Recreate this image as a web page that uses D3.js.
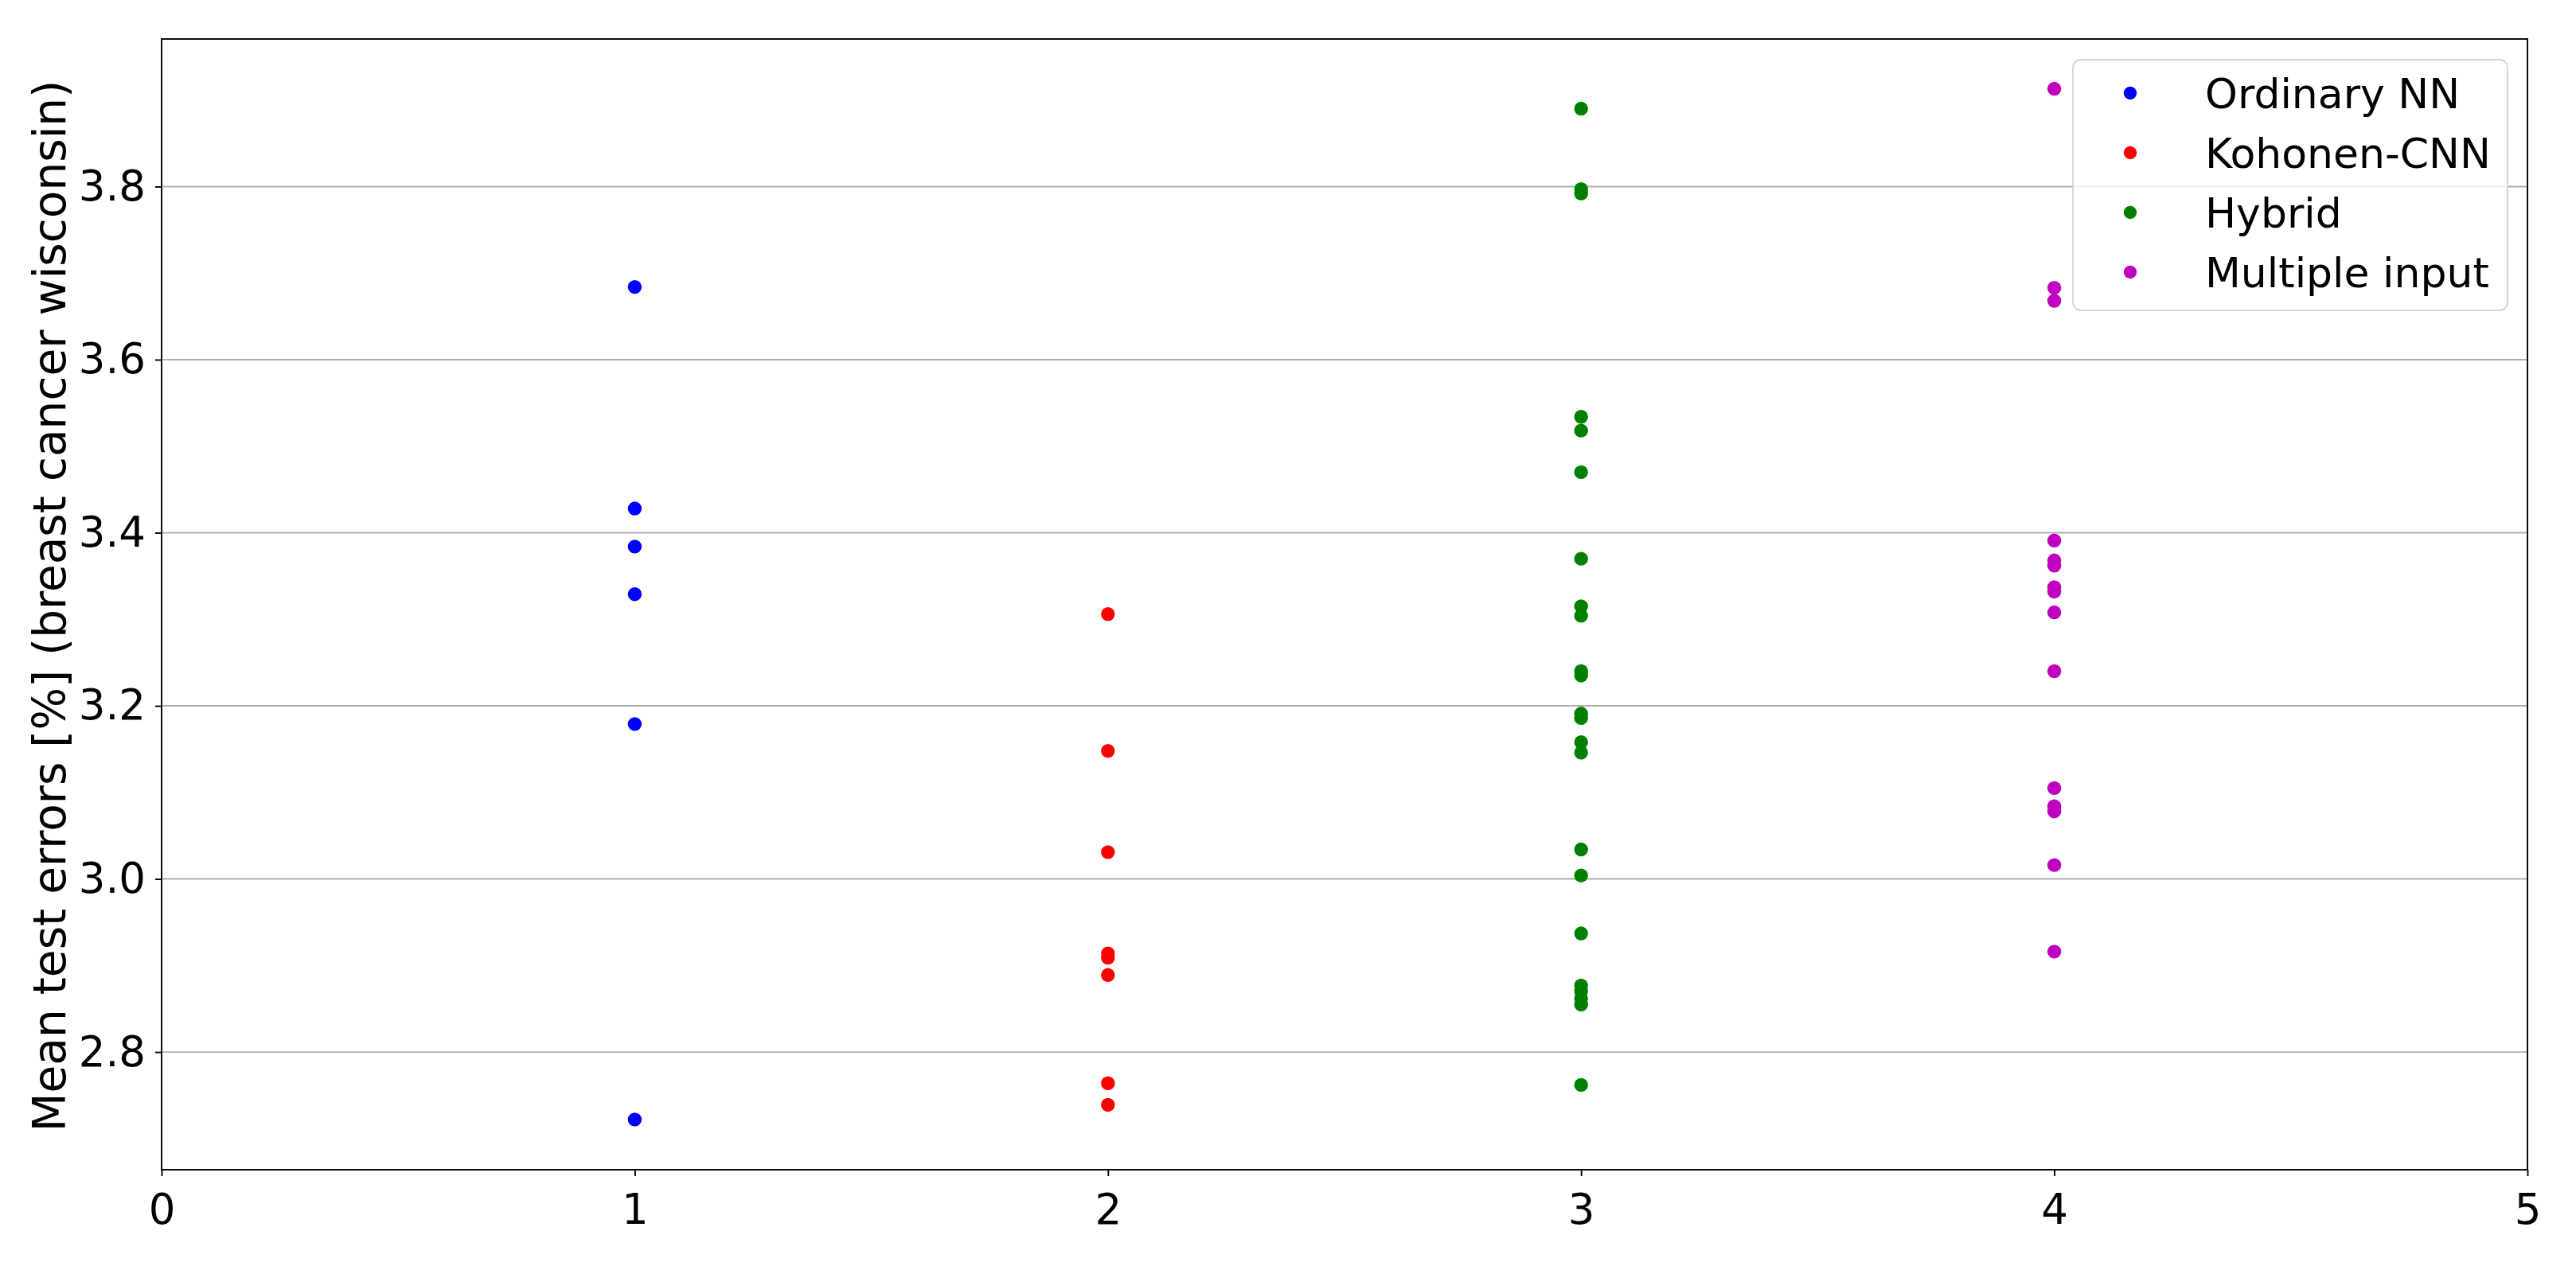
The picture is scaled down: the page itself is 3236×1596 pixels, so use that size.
<!DOCTYPE html>
<html>
<head>
<meta charset="utf-8">
<script src="https://cdn.jsdelivr.net/npm/d3@7"></script>
<style>
  html, body { margin: 0; padding: 0; background: #ffffff; }
  svg { display: block; }
  text { font-family: "DejaVu Sans", sans-serif; fill: #000; }
</style>
</head>
<body>
<svg id="chart" width="3236" height="1596"></svg>
<script>
// ---- data ----
const seriesNames = ["Ordinary NN", "Kohonen-CNN", "Hybrid", "Multiple input"];
const seriesX = [1, 2, 3, 4];
const seriesColors = ["#0000ff", "#ff0000", "#008000", "#bf00bf"];

const ordinaryNN = [3.684, 3.428, 3.384, 3.329, 3.179, 2.722];
const kohonenCNN = [3.306, 3.148, 3.031, 2.914, 2.909, 2.889, 2.764, 2.739];
const hybrid = [3.890, 3.797, 3.792, 3.534, 3.518, 3.470, 3.370, 3.315, 3.304,
                3.240, 3.235, 3.191, 3.186, 3.158, 3.146, 3.034, 3.004, 2.937,
                2.877, 2.870, 2.862, 2.855, 2.762];
const multipleInput = [3.913, 3.683, 3.668, 3.391, 3.368, 3.362, 3.337, 3.332,
                       3.308, 3.240, 3.105, 3.084, 3.078, 3.016, 2.916];

const xTicks = [0, 1, 2, 3, 4, 5];
const yTicks = [2.8, 3.0, 3.2, 3.4, 3.6, 3.8];
const xDomain = [0, 5];
const yDomain = [2.664, 3.9705];
const yLabel = "Mean test errors [%] (breast cancer wisconsin)";

// ---- layout ----
const svg = d3.select("#chart");
const L = 203, R = 3175, T = 49, B = 1470;

const x = d3.scaleLinear().domain(xDomain).range([L, R]);
const y = d3.scaleLinear().domain(yDomain).range([B, T]);

svg.append("rect").attr("width", 3236).attr("height", 1596).attr("fill", "#fff");

// grid (horizontal only)
svg.append("g").selectAll("line").data(yTicks).join("line")
  .attr("x1", L).attr("x2", R)
  .attr("y1", d => y(d)).attr("y2", d => y(d))
  .attr("stroke", "#b0b0b0").attr("stroke-width", 1.9);

// axes
const xAxis = svg.append("g").attr("transform", `translate(0,${B})`)
  .call(d3.axisBottom(x).tickValues(xTicks).tickFormat(d3.format("d")).tickSize(8).tickPadding(10));
const yAxis = svg.append("g").attr("transform", `translate(${L},0)`)
  .call(d3.axisLeft(y).tickValues(yTicks).tickFormat(d3.format(".1f")).tickSize(8).tickPadding(12));
[xAxis, yAxis].forEach(g => {
  g.select(".domain").remove();
  g.selectAll(".tick line").attr("stroke", "#000").attr("stroke-width", 1.9);
  g.selectAll(".tick text").attr("font-size", 53).attr("font-family", "DejaVu Sans").attr("fill", "#000");
});
xAxis.selectAll(".tick text").attr("dy", "0.95em");

// frame
svg.append("rect").attr("x", L).attr("y", T).attr("width", R - L).attr("height", B - T)
  .attr("fill", "none").attr("stroke", "#000").attr("stroke-width", 1.9);

// y label
svg.append("text")
  .attr("transform", `translate(82,${(T + B) / 2 + 2}) rotate(-90)`)
  .attr("text-anchor", "middle")
  .attr("font-size", 56.5)
  .text(yLabel);

// points
const allSeries = [ordinaryNN, kohonenCNN, hybrid, multipleInput];
allSeries.forEach((vals, i) => {
  svg.append("g").selectAll("circle").data(vals).join("circle")
    .attr("cx", x(seriesX[i]))
    .attr("cy", d => y(d))
    .attr("r", 8.7)
    .attr("fill", seriesColors[i]);
});

// legend
const lg = svg.append("g");
lg.append("rect").attr("x", 2604).attr("y", 75).attr("width", 546).attr("height", 315)
  .attr("rx", 10).attr("ry", 10)
  .attr("fill", "#ffffff").attr("fill-opacity", 0.8)
  .attr("stroke", "#d6d6d6").attr("stroke-width", 2);
seriesNames.forEach((name, i) => {
  const cy = 117 + i * 75;
  lg.append("circle").attr("cx", 2676).attr("cy", cy).attr("r", 8.2).attr("fill", seriesColors[i]);
  lg.append("text").attr("x", 2770).attr("y", cy).attr("dy", "0.36em")
    .attr("font-size", 52).text(name);
});
</script>
</body>
</html>
